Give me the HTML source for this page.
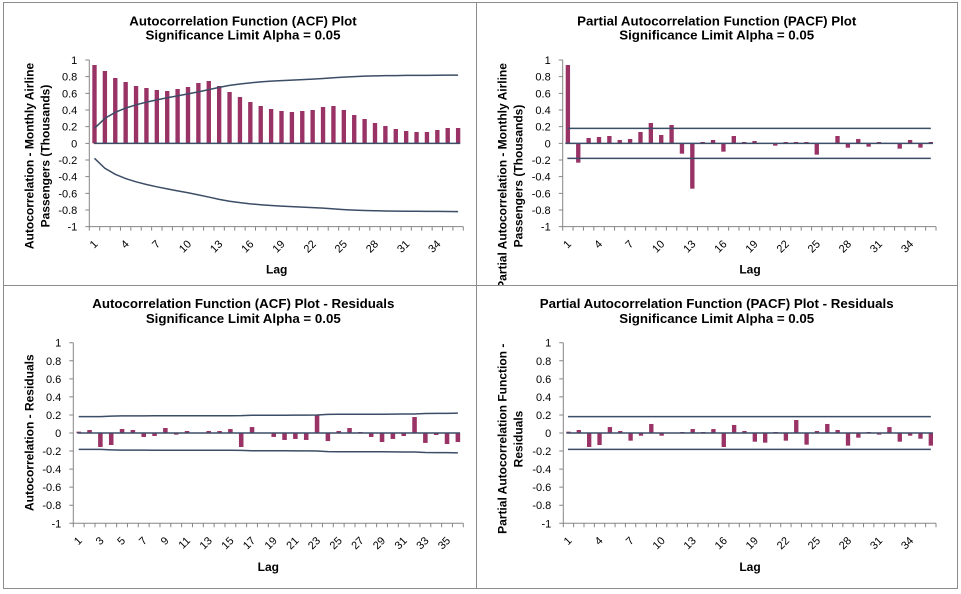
<!DOCTYPE html>
<html><head><meta charset="utf-8"><style>
html,body{margin:0;padding:0;background:#fff;}
svg{display:block;font-family:"Liberation Sans",Arial,sans-serif;}
.ax{fill:none;stroke:#868686;stroke-width:1;}
.bar{fill:#993366;}
.ln{fill:none;stroke:#3c4d66;stroke-width:1.5;}
.tl{font-size:11px;fill:#000;text-anchor:end;}
.tt{font-size:13.3px;font-weight:bold;fill:#000;text-anchor:middle;}
.at{font-size:12px;font-weight:bold;fill:#000;text-anchor:middle;}
</style></head><body>
<svg width="961" height="594" viewBox="0 0 961 594" xmlns="http://www.w3.org/2000/svg">
<defs>
<clipPath id="c2"><rect x="477" y="3" width="480" height="282"/></clipPath>
</defs>
<rect x="0" y="0" width="961" height="594" fill="#fff"/>
<!-- panel borders -->
<path d="M3.5,2.5H957.5V588.5H3.5Z M476.5,2.5V588.5 M3.5,285.5H957.5" fill="none" stroke="#8c8c8c" stroke-width="1"/>

<!-- ============ PANEL 1 ============ -->
<text class="tt" x="243" y="25.3">Autocorrelation Function (ACF) Plot</text>
<text class="tt" x="243" y="39.5">Significance Limit Alpha = 0.05</text>
<text class="at" transform="translate(33.5,156) rotate(-90)">Autocorrelation - Monthly Airline</text>
<text class="at" transform="translate(49.3,156) rotate(-90)">Passengers (Thousands)</text>
<text class="at" x="276.7" y="273.3">Lag</text>
<g class="tl">
<text x="77.3" y="64">1</text><text x="77.3" y="80.7">0.8</text><text x="77.3" y="97.3">0.6</text><text x="77.3" y="114">0.4</text><text x="77.3" y="130.7">0.2</text><text x="77.3" y="147.3">0</text><text x="77.3" y="164">-0.2</text><text x="77.3" y="180.7">-0.4</text><text x="77.3" y="197.3">-0.6</text><text x="77.3" y="214">-0.8</text><text x="77.3" y="230.7">-1</text>
</g>
<g class="tl">
<text transform="translate(98.5,244.7) rotate(-45)">1</text>
<text transform="translate(129.7,244.7) rotate(-45)">4</text>
<text transform="translate(160.8,244.7) rotate(-45)">7</text>
<text transform="translate(192,244.7) rotate(-45)">10</text>
<text transform="translate(223.2,244.7) rotate(-45)">13</text>
<text transform="translate(254.3,244.7) rotate(-45)">16</text>
<text transform="translate(285.5,244.7) rotate(-45)">19</text>
<text transform="translate(316.7,244.7) rotate(-45)">22</text>
<text transform="translate(347.8,244.7) rotate(-45)">25</text>
<text transform="translate(379,244.7) rotate(-45)">28</text>
<text transform="translate(410.2,244.7) rotate(-45)">31</text>
<text transform="translate(441.3,244.7) rotate(-45)">34</text>
</g>
<g transform="translate(89.3,143.33) scale(10.389,-83.33)">
<path class="ax" vector-effect="non-scaling-stroke" d="M0,1V-1H36"/>
<path class="ax" vector-effect="non-scaling-stroke" d="M-0.38,1H0M-0.38,0.8H0M-0.38,0.6H0M-0.38,0.4H0M-0.38,0.2H0M-0.38,0H0M-0.38,-0.2H0M-0.38,-0.4H0M-0.38,-0.6H0M-0.38,-0.8H0M-0.38,-1H0"/>
<path class="ax" vector-effect="non-scaling-stroke" d="M0,-1v-0.048M1,-1v-0.048M2,-1v-0.048M3,-1v-0.048M4,-1v-0.048M5,-1v-0.048M6,-1v-0.048M7,-1v-0.048M8,-1v-0.048M9,-1v-0.048M10,-1v-0.048M11,-1v-0.048M12,-1v-0.048M13,-1v-0.048M14,-1v-0.048M15,-1v-0.048M16,-1v-0.048M17,-1v-0.048M18,-1v-0.048M19,-1v-0.048M20,-1v-0.048M21,-1v-0.048M22,-1v-0.048M23,-1v-0.048M24,-1v-0.048M25,-1v-0.048M26,-1v-0.048M27,-1v-0.048M28,-1v-0.048M29,-1v-0.048M30,-1v-0.048M31,-1v-0.048M32,-1v-0.048M33,-1v-0.048M34,-1v-0.048M35,-1v-0.048M36,-1v-0.048"/>
<g class="bar">
<rect x="0.29" y="0" width="0.42" height="0.94"/>
<rect x="1.29" y="0" width="0.42" height="0.868"/>
<rect x="2.29" y="0" width="0.42" height="0.784"/>
<rect x="3.29" y="0" width="0.42" height="0.736"/>
<rect x="4.29" y="0" width="0.42" height="0.688"/>
<rect x="5.29" y="0" width="0.42" height="0.664"/>
<rect x="6.29" y="0" width="0.42" height="0.64"/>
<rect x="7.29" y="0" width="0.42" height="0.628"/>
<rect x="8.29" y="0" width="0.42" height="0.652"/>
<rect x="9.29" y="0" width="0.42" height="0.676"/>
<rect x="10.29" y="0" width="0.42" height="0.724"/>
<rect x="11.29" y="0" width="0.42" height="0.748"/>
<rect x="12.29" y="0" width="0.42" height="0.688"/>
<rect x="13.29" y="0" width="0.42" height="0.616"/>
<rect x="14.29" y="0" width="0.42" height="0.556"/>
<rect x="15.29" y="0" width="0.42" height="0.496"/>
<rect x="16.29" y="0" width="0.42" height="0.448"/>
<rect x="17.29" y="0" width="0.42" height="0.412"/>
<rect x="18.29" y="0" width="0.42" height="0.388"/>
<rect x="19.29" y="0" width="0.42" height="0.376"/>
<rect x="20.29" y="0" width="0.42" height="0.388"/>
<rect x="21.29" y="0" width="0.42" height="0.40"/>
<rect x="22.29" y="0" width="0.42" height="0.436"/>
<rect x="23.29" y="0" width="0.42" height="0.448"/>
<rect x="24.29" y="0" width="0.42" height="0.40"/>
<rect x="25.29" y="0" width="0.42" height="0.34"/>
<rect x="26.29" y="0" width="0.42" height="0.292"/>
<rect x="27.29" y="0" width="0.42" height="0.244"/>
<rect x="28.29" y="0" width="0.42" height="0.208"/>
<rect x="29.29" y="0" width="0.42" height="0.172"/>
<rect x="30.29" y="0" width="0.42" height="0.148"/>
<rect x="31.29" y="0" width="0.42" height="0.136"/>
<rect x="32.29" y="0" width="0.42" height="0.136"/>
<rect x="33.29" y="0" width="0.42" height="0.16"/>
<rect x="34.29" y="0" width="0.42" height="0.184"/>
<rect x="35.29" y="0" width="0.42" height="0.184"/>
</g>
<path class="ln" vector-effect="non-scaling-stroke" d="M0.45,0H35.7"/>
<polyline class="ln" vector-effect="non-scaling-stroke" points="0.5,0.18 1.5,0.299 2.5,0.372 3.5,0.423 4.5,0.462 5.5,0.494 6.5,0.522 7.5,0.547 8.5,0.570 9.5,0.593 10.5,0.618 11.5,0.645 12.5,0.672 13.5,0.695 14.5,0.712 15.5,0.726 16.5,0.737 17.5,0.746 18.5,0.753 19.5,0.759 20.5,0.765 21.5,0.771 22.5,0.778 23.5,0.787 24.5,0.795 25.5,0.801 26.5,0.806 27.5,0.809 28.5,0.812 29.5,0.813 30.5,0.815 31.5,0.815 32.5,0.816 33.5,0.817 34.5,0.818 35.5,0.819"/>
<polyline class="ln" vector-effect="non-scaling-stroke" points="0.5,-0.18 1.5,-0.299 2.5,-0.372 3.5,-0.423 4.5,-0.462 5.5,-0.494 6.5,-0.522 7.5,-0.547 8.5,-0.570 9.5,-0.593 10.5,-0.618 11.5,-0.645 12.5,-0.672 13.5,-0.695 14.5,-0.712 15.5,-0.726 16.5,-0.737 17.5,-0.746 18.5,-0.753 19.5,-0.759 20.5,-0.765 21.5,-0.771 22.5,-0.778 23.5,-0.787 24.5,-0.795 25.5,-0.801 26.5,-0.806 27.5,-0.809 28.5,-0.812 29.5,-0.813 30.5,-0.815 31.5,-0.815 32.5,-0.816 33.5,-0.817 34.5,-0.818 35.5,-0.819"/>
</g>

<!-- ============ PANEL 2 ============ -->
<text class="tt" x="716.7" y="25.3">Partial Autocorrelation Function (PACF) Plot</text>
<text class="tt" x="716.7" y="39.5">Significance Limit Alpha = 0.05</text>
<g clip-path="url(#c2)">
<text class="at" transform="translate(506.5,176) rotate(-90)">Partial Autocorrelation - Monthly Airline</text>
<text class="at" transform="translate(522.3,176) rotate(-90)">Passengers (Thousands)</text>
</g>
<text class="at" x="750" y="273.3">Lag</text>
<g class="tl">
<text x="550.7" y="64">1</text><text x="550.7" y="80.7">0.8</text><text x="550.7" y="97.3">0.6</text><text x="550.7" y="114">0.4</text><text x="550.7" y="130.7">0.2</text><text x="550.7" y="147.3">0</text><text x="550.7" y="164">-0.2</text><text x="550.7" y="180.7">-0.4</text><text x="550.7" y="197.3">-0.6</text><text x="550.7" y="214">-0.8</text><text x="550.7" y="230.7">-1</text>
</g>
<g class="tl">
<text transform="translate(571.9,244.7) rotate(-45)">1</text>
<text transform="translate(603,244.7) rotate(-45)">4</text>
<text transform="translate(634.1,244.7) rotate(-45)">7</text>
<text transform="translate(665.2,244.7) rotate(-45)">10</text>
<text transform="translate(696.3,244.7) rotate(-45)">13</text>
<text transform="translate(727.4,244.7) rotate(-45)">16</text>
<text transform="translate(758.5,244.7) rotate(-45)">19</text>
<text transform="translate(789.7,244.7) rotate(-45)">22</text>
<text transform="translate(820.8,244.7) rotate(-45)">25</text>
<text transform="translate(851.9,244.7) rotate(-45)">28</text>
<text transform="translate(883,244.7) rotate(-45)">31</text>
<text transform="translate(914.1,244.7) rotate(-45)">34</text>
</g>
<g transform="translate(562.7,143.33) scale(10.37,-83.33)">
<path class="ax" vector-effect="non-scaling-stroke" d="M0,1V-1H36"/>
<path class="ax" vector-effect="non-scaling-stroke" d="M-0.38,1H0M-0.38,0.8H0M-0.38,0.6H0M-0.38,0.4H0M-0.38,0.2H0M-0.38,0H0M-0.38,-0.2H0M-0.38,-0.4H0M-0.38,-0.6H0M-0.38,-0.8H0M-0.38,-1H0"/>
<path class="ax" vector-effect="non-scaling-stroke" d="M0,-1v-0.048M1,-1v-0.048M2,-1v-0.048M3,-1v-0.048M4,-1v-0.048M5,-1v-0.048M6,-1v-0.048M7,-1v-0.048M8,-1v-0.048M9,-1v-0.048M10,-1v-0.048M11,-1v-0.048M12,-1v-0.048M13,-1v-0.048M14,-1v-0.048M15,-1v-0.048M16,-1v-0.048M17,-1v-0.048M18,-1v-0.048M19,-1v-0.048M20,-1v-0.048M21,-1v-0.048M22,-1v-0.048M23,-1v-0.048M24,-1v-0.048M25,-1v-0.048M26,-1v-0.048M27,-1v-0.048M28,-1v-0.048M29,-1v-0.048M30,-1v-0.048M31,-1v-0.048M32,-1v-0.048M33,-1v-0.048M34,-1v-0.048M35,-1v-0.048M36,-1v-0.048"/>
<g class="bar">
<rect x="0.29" y="0" width="0.42" height="0.94"/>
<rect x="1.29" y="-0.232" width="0.42" height="0.232"/>
<rect x="2.29" y="0" width="0.42" height="0.064"/>
<rect x="3.29" y="0" width="0.42" height="0.076"/>
<rect x="4.29" y="0" width="0.42" height="0.088"/>
<rect x="5.29" y="0" width="0.42" height="0.04"/>
<rect x="6.29" y="0" width="0.42" height="0.052"/>
<rect x="7.29" y="0" width="0.42" height="0.136"/>
<rect x="8.29" y="0" width="0.42" height="0.244"/>
<rect x="9.29" y="0" width="0.42" height="0.10"/>
<rect x="10.29" y="0" width="0.42" height="0.22"/>
<rect x="11.29" y="-0.124" width="0.42" height="0.124"/>
<rect x="12.29" y="-0.544" width="0.42" height="0.544"/>
<rect x="13.29" y="0" width="0.42" height="0.016"/>
<rect x="14.29" y="0" width="0.42" height="0.04"/>
<rect x="15.29" y="-0.10" width="0.42" height="0.10"/>
<rect x="16.29" y="0" width="0.42" height="0.088"/>
<rect x="17.29" y="0" width="0.42" height="0.016"/>
<rect x="18.29" y="0" width="0.42" height="0.028"/>
<rect x="19.29" y="0" width="0.42" height="0.004"/>
<rect x="20.29" y="-0.028" width="0.42" height="0.028"/>
<rect x="21.29" y="0" width="0.42" height="0.016"/>
<rect x="22.29" y="0" width="0.42" height="0.016"/>
<rect x="23.29" y="0" width="0.42" height="0.016"/>
<rect x="24.29" y="-0.136" width="0.42" height="0.136"/>
<rect x="26.29" y="0" width="0.42" height="0.088"/>
<rect x="27.29" y="-0.052" width="0.42" height="0.052"/>
<rect x="28.29" y="0" width="0.42" height="0.052"/>
<rect x="29.29" y="-0.04" width="0.42" height="0.04"/>
<rect x="30.29" y="0" width="0.42" height="0.016"/>
<rect x="31.29" y="0" width="0.42" height="0.004"/>
<rect x="32.29" y="-0.064" width="0.42" height="0.064"/>
<rect x="33.29" y="0" width="0.42" height="0.04"/>
<rect x="34.29" y="-0.052" width="0.42" height="0.052"/>
<rect x="35.29" y="0" width="0.42" height="0.016"/>
</g>
<path class="ln" vector-effect="non-scaling-stroke" d="M0.25,0H35.7"/>
<path class="ln" vector-effect="non-scaling-stroke" d="M0.45,0.18H35.5M0.45,-0.18H35.5"/>
</g>

<!-- ============ PANEL 3 ============ -->
<text class="tt" x="243.3" y="308">Autocorrelation Function (ACF) Plot - Residuals</text>
<text class="tt" x="243.3" y="323">Significance Limit Alpha = 0.05</text>
<text class="at" transform="translate(33.5,432.7) rotate(-90)">Autocorrelation - Residuals</text>
<text class="at" x="268.3" y="571">Lag</text>
<g class="tl">
<text x="61.3" y="346.7">1</text><text x="61.3" y="364.8">0.8</text><text x="61.3" y="382.8">0.6</text><text x="61.3" y="400.9">0.4</text><text x="61.3" y="418.9">0.2</text><text x="61.3" y="437">0</text><text x="61.3" y="455.1">-0.2</text><text x="61.3" y="473.1">-0.4</text><text x="61.3" y="491.2">-0.6</text><text x="61.3" y="509.2">-0.8</text><text x="61.3" y="527.3">-1</text>
</g>
<g class="tl">
<text transform="translate(82.7,541.3) rotate(-45)">1</text>
<text transform="translate(104.4,541.3) rotate(-45)">3</text>
<text transform="translate(126,541.3) rotate(-45)">5</text>
<text transform="translate(147.7,541.3) rotate(-45)">7</text>
<text transform="translate(169.4,541.3) rotate(-45)">9</text>
<text transform="translate(191,541.3) rotate(-45)">11</text>
<text transform="translate(212.7,541.3) rotate(-45)">13</text>
<text transform="translate(234.4,541.3) rotate(-45)">15</text>
<text transform="translate(256,541.3) rotate(-45)">17</text>
<text transform="translate(277.7,541.3) rotate(-45)">19</text>
<text transform="translate(299.4,541.3) rotate(-45)">21</text>
<text transform="translate(321,541.3) rotate(-45)">23</text>
<text transform="translate(342.7,541.3) rotate(-45)">25</text>
<text transform="translate(364.4,541.3) rotate(-45)">27</text>
<text transform="translate(386,541.3) rotate(-45)">29</text>
<text transform="translate(407.7,541.3) rotate(-45)">31</text>
<text transform="translate(429.4,541.3) rotate(-45)">33</text>
<text transform="translate(451,541.3) rotate(-45)">35</text>
</g>
<g transform="translate(73.3,433) scale(10.833,-90.3)">
<path class="ax" vector-effect="non-scaling-stroke" d="M0,1V-1H36"/>
<path class="ax" vector-effect="non-scaling-stroke" d="M-0.37,1H0M-0.37,0.8H0M-0.37,0.6H0M-0.37,0.4H0M-0.37,0.2H0M-0.37,0H0M-0.37,-0.2H0M-0.37,-0.4H0M-0.37,-0.6H0M-0.37,-0.8H0M-0.37,-1H0"/>
<path class="ax" vector-effect="non-scaling-stroke" d="M0,-1v-0.044M1,-1v-0.044M2,-1v-0.044M3,-1v-0.044M4,-1v-0.044M5,-1v-0.044M6,-1v-0.044M7,-1v-0.044M8,-1v-0.044M9,-1v-0.044M10,-1v-0.044M11,-1v-0.044M12,-1v-0.044M13,-1v-0.044M14,-1v-0.044M15,-1v-0.044M16,-1v-0.044M17,-1v-0.044M18,-1v-0.044M19,-1v-0.044M20,-1v-0.044M21,-1v-0.044M22,-1v-0.044M23,-1v-0.044M24,-1v-0.044M25,-1v-0.044M26,-1v-0.044M27,-1v-0.044M28,-1v-0.044M29,-1v-0.044M30,-1v-0.044M31,-1v-0.044M32,-1v-0.044M33,-1v-0.044M34,-1v-0.044M35,-1v-0.044M36,-1v-0.044"/>
<g class="bar">
<rect x="0.29" y="0" width="0.42" height="0.015"/>
<rect x="1.29" y="0" width="0.42" height="0.033"/>
<rect x="2.29" y="-0.155" width="0.42" height="0.155"/>
<rect x="3.29" y="-0.133" width="0.42" height="0.133"/>
<rect x="4.29" y="0" width="0.42" height="0.044"/>
<rect x="5.29" y="0" width="0.42" height="0.033"/>
<rect x="6.29" y="-0.044" width="0.42" height="0.044"/>
<rect x="7.29" y="-0.033" width="0.42" height="0.033"/>
<rect x="8.29" y="0" width="0.42" height="0.055"/>
<rect x="9.29" y="-0.018" width="0.42" height="0.018"/>
<rect x="10.29" y="0" width="0.42" height="0.022"/>
<rect x="11.29" y="0" width="0.42" height="0.003"/>
<rect x="12.29" y="0" width="0.42" height="0.022"/>
<rect x="13.29" y="0" width="0.42" height="0.022"/>
<rect x="14.29" y="0" width="0.42" height="0.044"/>
<rect x="15.29" y="-0.155" width="0.42" height="0.155"/>
<rect x="16.29" y="0" width="0.42" height="0.066"/>
<rect x="18.29" y="-0.044" width="0.42" height="0.044"/>
<rect x="19.29" y="-0.077" width="0.42" height="0.077"/>
<rect x="20.29" y="-0.066" width="0.42" height="0.066"/>
<rect x="21.29" y="-0.077" width="0.42" height="0.077"/>
<rect x="22.29" y="0" width="0.42" height="0.196"/>
<rect x="23.29" y="-0.089" width="0.42" height="0.089"/>
<rect x="24.29" y="0" width="0.42" height="0.022"/>
<rect x="25.29" y="0" width="0.42" height="0.055"/>
<rect x="26.29" y="0" width="0.42" height="0.011"/>
<rect x="27.29" y="-0.044" width="0.42" height="0.044"/>
<rect x="28.29" y="-0.1" width="0.42" height="0.1"/>
<rect x="29.29" y="-0.066" width="0.42" height="0.066"/>
<rect x="30.29" y="-0.033" width="0.42" height="0.033"/>
<rect x="31.29" y="0" width="0.42" height="0.177"/>
<rect x="32.29" y="-0.11" width="0.42" height="0.11"/>
<rect x="33.29" y="-0.022" width="0.42" height="0.022"/>
<rect x="34.29" y="-0.122" width="0.42" height="0.122"/>
<rect x="35.29" y="-0.1" width="0.42" height="0.1"/>
</g>
<path class="ln" vector-effect="non-scaling-stroke" d="M0.37,0H35.7"/>
<polyline class="ln" vector-effect="non-scaling-stroke" points="0.5,0.182 1.5,0.182 2.5,0.182 3.5,0.1866 4.5,0.1897 5.5,0.19 6.5,0.1902 7.5,0.1905 8.5,0.1907 9.5,0.1912 10.5,0.1912 11.5,0.1913 12.5,0.1913 13.5,0.1914 14.5,0.1915 15.5,0.1919 16.5,0.196 17.5,0.1967 18.5,0.1967 19.5,0.197 20.5,0.198 21.5,0.1986 22.5,0.1997 23.5,0.206 24.5,0.2073 25.5,0.2074 26.5,0.2078 27.5,0.2078 28.5,0.2081 29.5,0.2097 30.5,0.2104 31.5,0.2106 32.5,0.2155 33.5,0.2173 34.5,0.2174 35.5,0.2197"/>
<polyline class="ln" vector-effect="non-scaling-stroke" points="0.5,-0.182 1.5,-0.182 2.5,-0.182 3.5,-0.1866 4.5,-0.1897 5.5,-0.19 6.5,-0.1902 7.5,-0.1905 8.5,-0.1907 9.5,-0.1912 10.5,-0.1912 11.5,-0.1913 12.5,-0.1913 13.5,-0.1914 14.5,-0.1915 15.5,-0.1919 16.5,-0.196 17.5,-0.1967 18.5,-0.1967 19.5,-0.197 20.5,-0.198 21.5,-0.1986 22.5,-0.1997 23.5,-0.206 24.5,-0.2073 25.5,-0.2074 26.5,-0.2078 27.5,-0.2078 28.5,-0.2081 29.5,-0.2097 30.5,-0.2104 31.5,-0.2106 32.5,-0.2155 33.5,-0.2173 34.5,-0.2174 35.5,-0.2197"/>
</g>

<!-- ============ PANEL 4 ============ -->
<text class="tt" x="716.7" y="308">Partial Autocorrelation Function (PACF) Plot - Residuals</text>
<text class="tt" x="716.7" y="323">Significance Limit Alpha = 0.05</text>
<text class="at" transform="translate(506.5,438.8) rotate(-90)">Partial Autocorrelation Function -</text>
<text class="at" transform="translate(522.3,439) rotate(-90)">Residuals</text>
<text class="at" x="750" y="571">Lag</text>
<g class="tl">
<text x="551.3" y="346.7">1</text><text x="551.3" y="364.8">0.8</text><text x="551.3" y="382.8">0.6</text><text x="551.3" y="400.9">0.4</text><text x="551.3" y="418.9">0.2</text><text x="551.3" y="437">0</text><text x="551.3" y="455.1">-0.2</text><text x="551.3" y="473.1">-0.4</text><text x="551.3" y="491.2">-0.6</text><text x="551.3" y="509.2">-0.8</text><text x="551.3" y="527.3">-1</text>
</g>
<g class="tl">
<text transform="translate(572.5,541.3) rotate(-45)">1</text>
<text transform="translate(603.5,541.3) rotate(-45)">4</text>
<text transform="translate(634.6,541.3) rotate(-45)">7</text>
<text transform="translate(665.7,541.3) rotate(-45)">10</text>
<text transform="translate(696.7,541.3) rotate(-45)">13</text>
<text transform="translate(727.8,541.3) rotate(-45)">16</text>
<text transform="translate(758.8,541.3) rotate(-45)">19</text>
<text transform="translate(789.9,541.3) rotate(-45)">22</text>
<text transform="translate(820.9,541.3) rotate(-45)">25</text>
<text transform="translate(852,541.3) rotate(-45)">28</text>
<text transform="translate(883.1,541.3) rotate(-45)">31</text>
<text transform="translate(914.1,541.3) rotate(-45)">34</text>
</g>
<g transform="translate(563.3,433) scale(10.353,-90.3)">
<path class="ax" vector-effect="non-scaling-stroke" d="M0,1V-1H36"/>
<path class="ax" vector-effect="non-scaling-stroke" d="M-0.39,1H0M-0.39,0.8H0M-0.39,0.6H0M-0.39,0.4H0M-0.39,0.2H0M-0.39,0H0M-0.39,-0.2H0M-0.39,-0.4H0M-0.39,-0.6H0M-0.39,-0.8H0M-0.39,-1H0"/>
<path class="ax" vector-effect="non-scaling-stroke" d="M0,-1v-0.044M1,-1v-0.044M2,-1v-0.044M3,-1v-0.044M4,-1v-0.044M5,-1v-0.044M6,-1v-0.044M7,-1v-0.044M8,-1v-0.044M9,-1v-0.044M10,-1v-0.044M11,-1v-0.044M12,-1v-0.044M13,-1v-0.044M14,-1v-0.044M15,-1v-0.044M16,-1v-0.044M17,-1v-0.044M18,-1v-0.044M19,-1v-0.044M20,-1v-0.044M21,-1v-0.044M22,-1v-0.044M23,-1v-0.044M24,-1v-0.044M25,-1v-0.044M26,-1v-0.044M27,-1v-0.044M28,-1v-0.044M29,-1v-0.044M30,-1v-0.044M31,-1v-0.044M32,-1v-0.044M33,-1v-0.044M34,-1v-0.044M35,-1v-0.044M36,-1v-0.044"/>
<g class="bar">
<rect x="0.29" y="0" width="0.42" height="0.015"/>
<rect x="1.29" y="0" width="0.42" height="0.033"/>
<rect x="2.29" y="-0.155" width="0.42" height="0.155"/>
<rect x="3.29" y="-0.133" width="0.42" height="0.133"/>
<rect x="4.29" y="0" width="0.42" height="0.066"/>
<rect x="5.29" y="0" width="0.42" height="0.022"/>
<rect x="6.29" y="-0.085" width="0.42" height="0.085"/>
<rect x="7.29" y="-0.03" width="0.42" height="0.03"/>
<rect x="8.29" y="0" width="0.42" height="0.1"/>
<rect x="9.29" y="-0.03" width="0.42" height="0.03"/>
<rect x="11.29" y="0" width="0.42" height="0.011"/>
<rect x="12.29" y="0" width="0.42" height="0.044"/>
<rect x="13.29" y="0" width="0.42" height="0.011"/>
<rect x="14.29" y="0" width="0.42" height="0.044"/>
<rect x="15.29" y="-0.155" width="0.42" height="0.155"/>
<rect x="16.29" y="0" width="0.42" height="0.089"/>
<rect x="17.29" y="0" width="0.42" height="0.022"/>
<rect x="18.29" y="-0.096" width="0.42" height="0.096"/>
<rect x="19.29" y="-0.107" width="0.42" height="0.107"/>
<rect x="20.29" y="0" width="0.42" height="0.011"/>
<rect x="21.29" y="-0.085" width="0.42" height="0.085"/>
<rect x="22.29" y="0" width="0.42" height="0.144"/>
<rect x="23.29" y="-0.129" width="0.42" height="0.129"/>
<rect x="24.29" y="0" width="0.42" height="0.022"/>
<rect x="25.29" y="0" width="0.42" height="0.1"/>
<rect x="26.29" y="0" width="0.42" height="0.033"/>
<rect x="27.29" y="-0.14" width="0.42" height="0.14"/>
<rect x="28.29" y="-0.052" width="0.42" height="0.052"/>
<rect x="29.29" y="0" width="0.42" height="0.011"/>
<rect x="30.29" y="-0.018" width="0.42" height="0.018"/>
<rect x="31.29" y="0" width="0.42" height="0.066"/>
<rect x="32.29" y="-0.096" width="0.42" height="0.096"/>
<rect x="33.29" y="-0.03" width="0.42" height="0.03"/>
<rect x="34.29" y="-0.063" width="0.42" height="0.063"/>
<rect x="35.29" y="-0.14" width="0.42" height="0.14"/>
</g>
<path class="ln" vector-effect="non-scaling-stroke" d="M0.3,0H35.7"/>
<path class="ln" vector-effect="non-scaling-stroke" d="M0.45,0.182H35.5M0.45,-0.182H35.5"/>
</g>
</svg>
</body></html>
